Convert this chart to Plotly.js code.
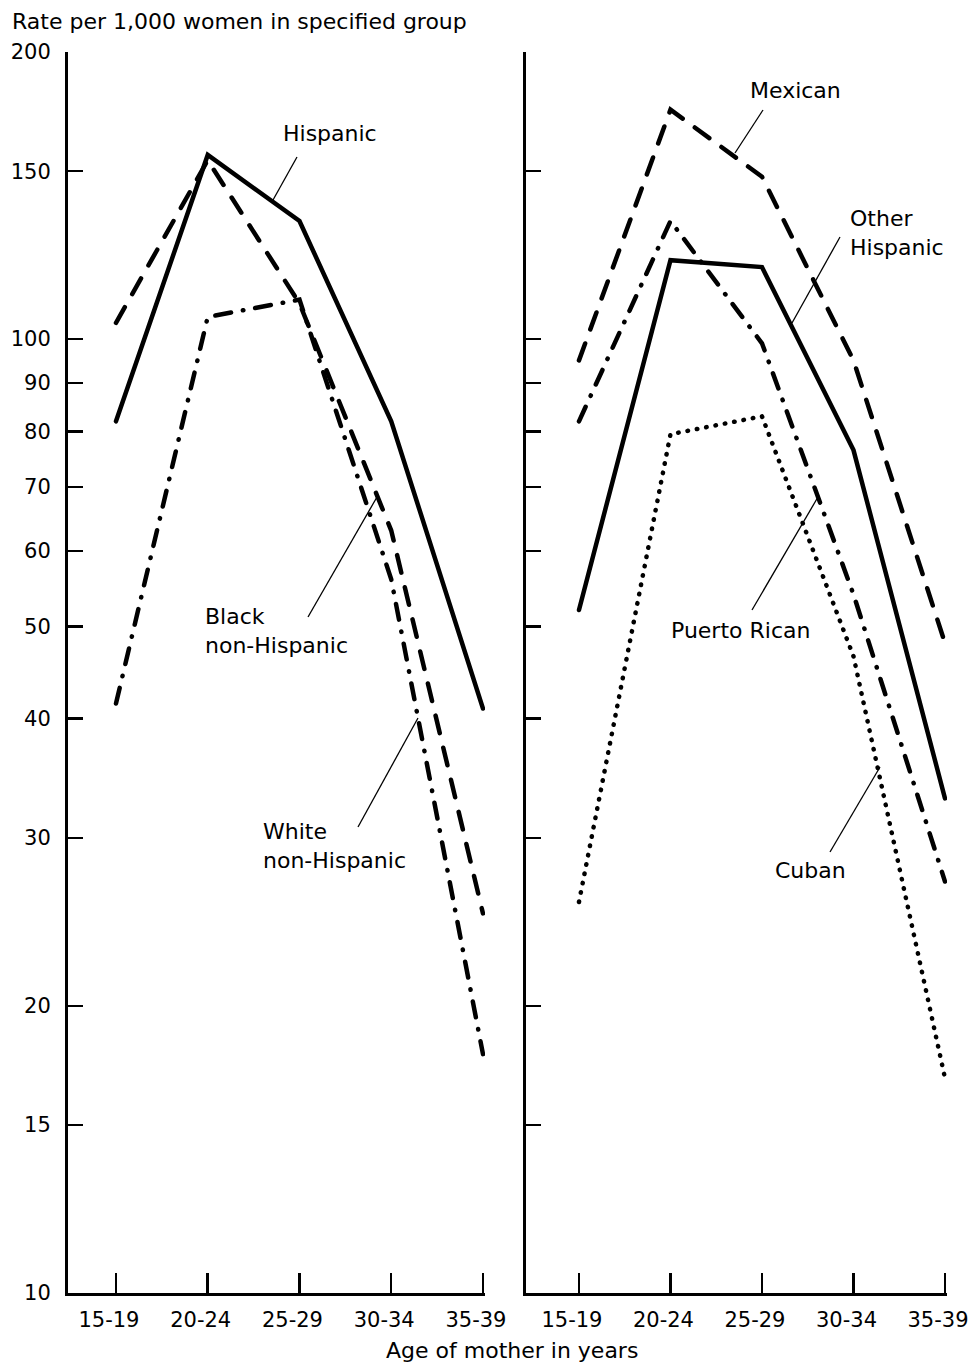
<!DOCTYPE html>
<html>
<head>
<meta charset="utf-8">
<script src="https://cdn.plot.ly/plotly-3.0.1.min.js"></script>
<style>
html,body{margin:0;padding:0;background:#fff;}
#chart{width:973px;height:1366px;}
.scatterlayer .js-line{stroke-linecap:round;}
</style>
</head>
<body>
<div id="chart"></div>
<script>
// ---- data (rates per 1,000 women) ----
const ageGroups = ['15-19', '20-24', '25-29', '30-34', '35-39'];
const hispanic = [82, 156, 133, 82, 41];
const blackNonHispanic = [104, 154, 109, 63, 25];
const whiteNonHispanic = [41.5, 105.5, 110, 56, 17.8];
const mexican = [95, 174, 148, 95, 48];
const otherHispanic = [52, 121, 119, 76.5, 33];
const puertoRican = [82, 133, 99, 54, 27];
const cuban = [25.7, 79.5, 83, 46.5, 16.8];
const yTickVals = [10, 15, 20, 30, 40, 50, 60, 70, 80, 90, 100, 150, 200];
const yTickText = yTickVals.map(String);

// ---- layout helpers ----
const W = 973, H = 1366;
const px = v => v / W;
const py = v => 1 - v / H;
const FONT = 'DejaVu Sans, Liberation Sans, Arial, sans-serif';
const LW = 4.5;

const DASH = '18px,15px';
const DASHDOT = '16px,12px,0.5px,12px';
const DOT = '0.5px,9px';

function line(y, dash, xa, ya, name) {
  return {
    type: 'scatter', mode: 'lines', name: name,
    x: ageGroups, y: y, xaxis: xa, yaxis: ya,
    line: {color: '#000', width: LW, dash: dash},
    hoverinfo: 'skip', showlegend: false
  };
}

const traces = [
  line(hispanic, 'solid', 'x', 'y', 'Hispanic'),
  line(blackNonHispanic, DASH, 'x', 'y', 'Black non-Hispanic'),
  line(whiteNonHispanic, DASHDOT, 'x', 'y', 'White non-Hispanic'),
  line(mexican, DASH, 'x2', 'y2', 'Mexican'),
  line(otherHispanic, 'solid', 'x2', 'y2', 'Other Hispanic'),
  line(puertoRican, DASHDOT, 'x2', 'y2', 'Puerto Rican'),
  line(cuban, DOT, 'x2', 'y2', 'Cuban')
];

const yDomain = [py(1293), py(52)];
function xAxis(domain, range, anchor) {
  return {
    type: 'category', domain: domain, range: range, anchor: anchor,
    tickmode: 'array', tickvals: ageGroups, ticktext: ageGroups,
    ticks: 'inside', ticklen: 20, tickwidth: 2.5, tickcolor: '#000',
    showline: true, linewidth: 3, linecolor: '#000',
    showgrid: false, zeroline: false, automargin: false,
    tickfont: {family: FONT, size: 21, color: '#000'},
    ticklabelstandoff: 6, ticklabelshift: -7, fixedrange: true
  };
}
function yAxis(anchor, showLabels) {
  return {
    type: 'log', domain: yDomain, range: [1, Math.log10(200)], anchor: anchor,
    tickmode: 'array', tickvals: yTickVals, ticktext: yTickText,
    ticks: 'inside', ticklen: 15, tickwidth: 2.5, tickcolor: '#000',
    showline: true, linewidth: 3, linecolor: '#000',
    showgrid: false, zeroline: false, automargin: false,
    showticklabels: showLabels,
    tickfont: {family: FONT, size: 21, color: '#000'},
    ticklabelstandoff: 10, fixedrange: true
  };
}

function label(text, x, y, xanchor, align) {
  return {
    text: text, xref: 'paper', yref: 'paper', x: px(x), y: py(y),
    xanchor: xanchor || 'center', yanchor: 'middle', align: align || 'center',
    showarrow: false, font: {family: FONT, size: 22, color: '#000'}
  };
}
function leader(x0, y0, x1, y1) {
  return {
    type: 'line', xref: 'paper', yref: 'paper',
    x0: px(x0), y0: py(y0), x1: px(x1), y1: py(y1),
    line: {color: '#000', width: 1.3}
  };
}

const layout = {
  width: W, height: H,
  margin: {l: 0, r: 0, t: 0, b: 0},
  paper_bgcolor: '#fff', plot_bgcolor: 'rgba(0,0,0,0)',
  showlegend: false,
  font: {family: FONT, color: '#000'},
  xaxis: xAxis([px(68), px(485)], [-0.523, 4.022], 'y'),
  yaxis: yAxis('x', true),
  xaxis2: xAxis([px(526), px(947)], [-0.579, 4.022], 'y2'),
  yaxis2: yAxis('x2', false),
  annotations: [
    label('Rate per 1,000 women in specified group', 10, 21, 'left', 'left'),
    label('Age of mother in years', 512, 1350),
    label('Hispanic', 330, 133),
    label('Black<br>non-Hispanic', 203, 631, 'left', 'left'),
    label('White<br>non-Hispanic', 261, 846, 'left', 'left'),
    label('Mexican', 795, 90),
    label('Other<br>Hispanic', 848, 233, 'left', 'left'),
    label('Puerto Rican', 740, 631),
    label('Cuban', 810, 870)
  ],
  shapes: [
    leader(297, 157, 273, 200),
    leader(308, 617, 377, 497),
    leader(358, 827, 418, 718),
    leader(763, 110, 735, 153),
    leader(840, 237, 792, 323),
    leader(752, 610, 818, 497),
    leader(830, 852, 880, 767)
  ]
};

Plotly.newPlot('chart', traces, layout, {staticPlot: true, displayModeBar: false});
</script>
</body>
</html>
